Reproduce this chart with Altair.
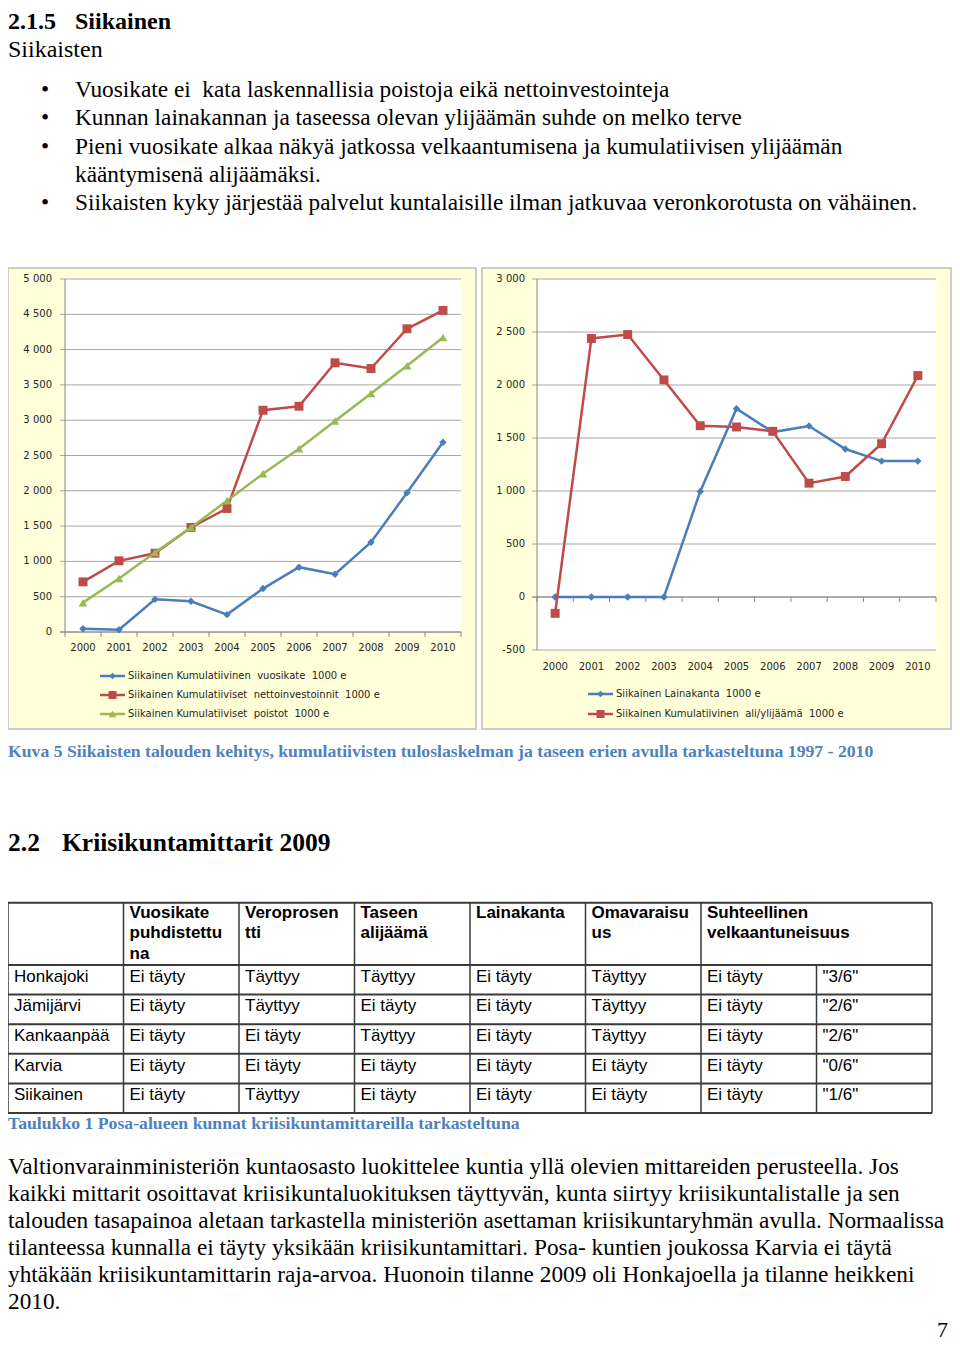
import altair as alt
import pandas as pd

# ---------------- chart data ----------------
years = list(range(2000, 2011))

vuosikate = [47, 33, 464, 435, 246, 615, 918, 818, 1272, 1973, 2687]
nettoinvestoinnit = [710, 1008, 1116, 1481, 1750, 3141, 3198, 3813, 3732, 4295, 4555]
poistot = [416, 757, 1126, 1481, 1859, 2242, 2597, 2990, 3378, 3770, 4172]

lainakanta = [0, 0, 0, 0, 996, 1777, 1556, 1613, 1396, 1282, 1282]
alijaama = [-154, 2439, 2476, 2048, 1616, 1604, 1563, 1074, 1137, 1446, 2089]

left_names = [
    "Siikainen Kumulatiivinen  vuosikate  1000 e",
    "Siikainen Kumulatiiviset  nettoinvestoinnit  1000 e",
    "Siikainen Kumulatiiviset  poistot  1000 e",
]
right_names = [
    "Siikainen Lainakanta  1000 e",
    "Siikainen Kumulatiivinen  ali/ylijäämä  1000 e",
]
left_ticks = [0, 500, 1000, 1500, 2000, 2500, 3000, 3500, 4000, 4500, 5000]
right_ticks = [-500, 0, 500, 1000, 1500, 2000, 2500, 3000]

# ---------------- table data ----------------
table_headers = ["", "Vuosikate\npuhdistettu\nna", "Veroprosen\ntti", "Taseen\nalijäämä",
                 "Lainakanta", "Omavaraisu\nus", "Suhteellinen\nvelkaantuneisuus"]
kunnat = ["Honkajoki", "Jämijärvi", "Kankaanpää", "Karvia", "Siikainen"]
col_vuosikate = ["Ei täyty", "Ei täyty", "Ei täyty", "Ei täyty", "Ei täyty"]
col_veroprosentti = ["Täyttyy", "Täyttyy", "Ei täyty", "Ei täyty", "Täyttyy"]
col_taseen = ["Täyttyy", "Ei täyty", "Täyttyy", "Ei täyty", "Ei täyty"]
col_lainakanta = ["Ei täyty", "Ei täyty", "Ei täyty", "Ei täyty", "Ei täyty"]
col_omavaraisuus = ["Täyttyy", "Täyttyy", "Täyttyy", "Ei täyty", "Ei täyty"]
col_suhteellinen = ["Ei täyty", "Ei täyty", "Ei täyty", "Ei täyty", "Ei täyty"]
col_yhteensa = ['"3/6"', '"2/6"', '"2/6"', '"0/6"', '"1/6"']

# ---------------- document text ----------------
title_num, title_txt = "2.1.5", "Siikainen"
intro = "Siikaisten"
bullets = [
    ("•", "Vuosikate ei\u00a0 kata laskennallisia poistoja eikä nettoinvestointeja"),
    ("•", "Kunnan lainakannan ja taseessa olevan ylijäämän suhde on melko terve"),
    ("•", "Pieni vuosikate alkaa näkyä jatkossa velkaantumisena ja kumulatiivisen ylijäämän"),
    ("", "kääntymisenä alijäämäksi."),
    ("•", "Siikaisten kyky järjestää palvelut kuntalaisille ilman jatkuvaa veronkorotusta on vähäinen."),
]
caption1 = ("Kuva 5 Siikaisten talouden kehitys, kumulatiivisten tuloslaskelman ja taseen erien "
            "avulla tarkasteltuna 1997 - 2010")
heading_num, heading_txt = "2.2", "Kriisikuntamittarit 2009"
caption2 = "Taulukko 1 Posa-alueen kunnat kriisikuntamittareilla tarkasteltuna"
paragraph = [
    "Valtionvarainministeriön kuntaosasto luokittelee kuntia yllä olevien mittareiden perusteella. Jos",
    "kaikki mittarit osoittavat kriisikuntaluokituksen täyttyvän, kunta siirtyy kriisikuntalistalle ja sen",
    "talouden tasapainoa aletaan tarkastella ministeriön asettaman kriisikuntaryhmän avulla. Normaalissa",
    "tilanteessa kunnalla ei täyty yksikään kriisikuntamittari. Posa- kuntien joukossa Karvia ei täytä",
    "yhtäkään kriisikuntamittarin raja-arvoa. Huonoin tilanne 2009 oli Honkajoella ja tilanne heikkeni",
    "2010.",
]
page_no = "7"

# ---------------- styles ----------------
SERIF = "Liberation Serif"
SANS = "Liberation Sans"
CHART_FONT = "DejaVu Sans"
BLUE_CAP = "#4F81BD"
C_BLUE, C_RED, C_GREEN = "#4A7EBB", "#BE4B48", "#98B954"
GRID = "#A6A6A6"
AXIS = "#868686"
PANEL_FILL = "#FFFFD9"
PANEL_STROKE = "#BDBDBD"

OX, OY = 8, 8
W, H = 944, 1340


def cx(x):
    return max(x - OX, 0)


def cy(y):
    return y - OY


def text(s, x, y, size=21, font=SERIF, weight="normal", color="black", align="left"):
    return alt.Chart(alt.Data(values=[{"t": s}])).mark_text(
        align=align, baseline="middle", font=font, fontSize=size,
        fontWeight=weight, color=color,
    ).encode(text=alt.Text("t:N"), x=alt.value(cx(x)), y=alt.value(cy(y)))


def panel(box, xsc, ysc, ymin, ymax, ticks, series, names, colors, shapes, sizes,
          axis_at, label_at, label_dy, ylabel_dx, legend_x, legend_ys):
    x0, y0, x1, y1 = box
    layers = []
    layers.append(
        alt.Chart(alt.Data(values=[{}])).mark_rect(
            fill=PANEL_FILL, stroke=PANEL_STROKE, strokeWidth=1.5
        ).encode(x=alt.value(cx(x0)), x2=alt.value(cx(x1)),
                 y=alt.value(cy(y0)), y2=alt.value(cy(y1)))
    )
    XD = lambda d: alt.XDatum(d, type="quantitative", scale=xsc, axis=None)
    YD = lambda d: alt.YDatum(d, type="quantitative", scale=ysc, axis=None)
    lo, hi = years[0] - 0.5, years[-1] + 0.5
    one = alt.Data(values=[{}])
    # white plot area
    layers.append(
        alt.Chart(one).mark_rect(fill="white").encode(
            x=XD(lo), x2=alt.X2Datum(hi), y=YD(ymin), y2=alt.Y2Datum(ymax))
    )
    tick_df = pd.DataFrame({"v": ticks,
                            "lab": [f"{v:,}".replace(",", " ") for v in ticks]})
    # gridlines
    layers.append(
        alt.Chart(tick_df).mark_rule(color=GRID, strokeWidth=1, xOffset=-5).encode(
            y=alt.Y("v:Q", scale=ysc, axis=None), x=XD(lo), x2=alt.X2Datum(hi))
    )
    # value axis line
    layers.append(
        alt.Chart(one).mark_rule(color=AXIS, strokeWidth=1).encode(
            x=XD(lo), y=YD(ymin), y2=alt.Y2Datum(ymax))
    )
    # category axis line
    layers.append(
        alt.Chart(one).mark_rule(color=AXIS, strokeWidth=1, xOffset=-5).encode(
            x=XD(lo), x2=alt.X2Datum(hi), y=YD(axis_at))
    )
    bounds = pd.DataFrame({"b": [lo + k for k in range(len(years) + 1)]})
    layers.append(
        alt.Chart(bounds).mark_rule(color=AXIS, strokeWidth=1, y2Offset=5).encode(
            x=alt.X("b:Q", scale=xsc, axis=None), y=YD(axis_at), y2=alt.Y2Datum(axis_at))
    )
    # value labels
    layers.append(
        alt.Chart(tick_df).mark_text(align="right", baseline="middle", dx=ylabel_dx,
                                     font=CHART_FONT, fontSize=10, color="#262626").encode(
            y=alt.Y("v:Q", scale=ysc, axis=None), x=XD(lo), text="lab:N")
    )
    # category labels
    yr_df = pd.DataFrame({"year": years, "lab": [str(y) for y in years]})
    layers.append(
        alt.Chart(yr_df).mark_text(align="center", baseline="middle", dy=label_dy,
                                   font=CHART_FONT, fontSize=10, color="#262626").encode(
            x=alt.X("year:Q", scale=xsc, axis=None), y=YD(label_at), text="lab:N")
    )
    # series
    for vals, col, shp, sz in zip(series, colors, shapes, sizes):
        df = pd.DataFrame({"year": years, "v": vals})
        enc = dict(x=alt.X("year:Q", scale=xsc, axis=None),
                   y=alt.Y("v:Q", scale=ysc, axis=None))
        layers.append(alt.Chart(df).mark_line(color=col, strokeWidth=2.5).encode(**enc))
        layers.append(alt.Chart(df).mark_point(filled=True, opacity=1, color=col,
                                               shape=shp, size=sz).encode(**enc))
    # legend
    for name, col, shp, sz, ly in zip(names, colors, shapes, sizes, legend_ys):
        layers.append(alt.Chart(alt.Data(values=[{}])).mark_rule(color=col, strokeWidth=2.5).encode(
            x=alt.value(cx(legend_x)), x2=alt.value(cx(legend_x + 25)), y=alt.value(cy(ly))))
        layers.append(alt.Chart(alt.Data(values=[{}])).mark_point(
            filled=True, opacity=1, color=col, shape=shp, size=sz * 0.8).encode(
            x=alt.value(cx(legend_x + 12.5)), y=alt.value(cy(ly))))
        layers.append(text(name.replace("  ", "\u00a0 "), legend_x + 28, ly, size=10,
                           font=CHART_FONT, color="#262626"))
    return alt.layer(*layers)


xL = alt.Scale(domain=[1999.5, 2010.5], range=[cx(65), cx(461)], nice=False, zero=False)
yL = alt.Scale(domain=[0, 5000], range=[cy(632), cy(279)], nice=False, zero=False)
xR = alt.Scale(domain=[1999.5, 2010.5], range=[cx(537), cx(936)], nice=False, zero=False)
yR = alt.Scale(domain=[-500, 3000], range=[cy(650), cy(279)], nice=False, zero=False)

left = panel((8, 268, 476, 729), xL, yL, 0, 5000, left_ticks,
             [vuosikate, nettoinvestoinnit, poistot], left_names,
             [C_BLUE, C_RED, C_GREEN], ["diamond", "square", "triangle-up"], [55, 80, 75],
             axis_at=0, label_at=0, label_dy=16, ylabel_dx=-13,
             legend_x=100, legend_ys=[676, 695, 714])
right = panel((482, 268, 951, 729), xR, yR, -500, 3000, right_ticks,
              [lainakanta, alijaama], right_names,
              [C_BLUE, C_RED], ["diamond", "square"], [55, 80],
              axis_at=0, label_at=-500, label_dy=17, ylabel_dx=-12,
              legend_x=588, legend_ys=[694, 714])

# ---------------- table ----------------
xT = alt.Scale(domain=[0, 8], range=[cx(8), cx(932)], nice=False, zero=False)
yT = alt.Scale(domain=[0, 5], range=[cy(965), cy(1113)], nice=False, zero=False)
HEAD_TOP = -2.1
columns = [kunnat, col_vuosikate, col_veroprosentti, col_taseen, col_lainakanta,
           col_omavaraisuus, col_suhteellinen, col_yhteensa]
cells = pd.DataFrame([
    {"c": ci, "r": ri + 0.5, "t": val}
    for ci, col in enumerate(columns) for ri, val in enumerate(col)
])
heads = pd.DataFrame({"c": list(range(len(table_headers))), "r": HEAD_TOP, "t": table_headers})
hlines = pd.DataFrame({"r": [HEAD_TOP] + list(range(len(kunnat) + 1)), "a": 0, "b": 8})
vlines = pd.DataFrame({"c": list(range(9)),
                       "top": [HEAD_TOP] * 7 + [0, HEAD_TOP],
                       "bot": [len(kunnat)] * 9})
table = alt.layer(
    alt.Chart(vlines).mark_rule(color="#3A3A3A", strokeWidth=1.5).encode(
        x=alt.X("c:Q", scale=xT, axis=None), y=alt.Y("top:Q", scale=yT, axis=None), y2="bot:Q"),
    alt.Chart(hlines).mark_rule(color="#3A3A3A", strokeWidth=2).encode(
        x=alt.X("a:Q", scale=xT, axis=None), x2="b:Q", y=alt.Y("r:Q", scale=yT, axis=None)),
    alt.Chart(cells).mark_text(align="left", baseline="middle", dx=6, dy=-3, font=SANS,
                               fontSize=17, color="black").encode(
        x=alt.X("c:Q", scale=xT, axis=None), y=alt.Y("r:Q", scale=yT, axis=None), text="t:N"),
    alt.Chart(heads).mark_text(align="left", baseline="alphabetic", dx=6, dy=15, font=SANS,
                               fontSize=17, fontWeight="bold", lineBreak="\n",
                               lineHeight=20.5, color="black").encode(
        x=alt.X("c:Q", scale=xT, axis=None), y=alt.Y("r:Q", scale=yT, axis=None), text="t:N"),
)

# ---------------- document text layers ----------------
BODY = 23.3
doc = [
    text(title_num, 5, 22, size=24, weight="bold"),
    text(title_txt, 75, 22, size=24, weight="bold"),
    text(intro, 5, 50, size=24),
]
for i, (b, s) in enumerate(bullets):
    yy = [90, 118, 147, 175, 203][i]
    if b:
        doc.append(text(b, 45, yy, size=BODY, align="center"))
    doc.append(text(s, 75, yy, size=BODY))
doc.append(text(caption1, 5, 752, size=17.7, weight="bold", color=BLUE_CAP))
doc.append(text(heading_num, 5, 843, size=25.5, weight="bold"))
doc.append(text(heading_txt, 62, 843, size=25.5, weight="bold"))
doc.append(text(caption2, 5, 1124, size=17.7, weight="bold", color=BLUE_CAP))
for i, s in enumerate(paragraph):
    doc.append(text(s, 5, 1167 + 27 * i, size=BODY))
doc.append(text(page_no, 948, 1330, size=22, align="right"))

chart = alt.layer(left, right, table, *doc).resolve_scale(
    x="independent", y="independent"
).properties(
    width=W, height=H, padding=0, autosize=alt.AutoSizeParams(type="none"),
    background="white",
).configure_view(stroke=None)

chart.save("out.html", embed_options={"renderer": "svg", "actions": False})
